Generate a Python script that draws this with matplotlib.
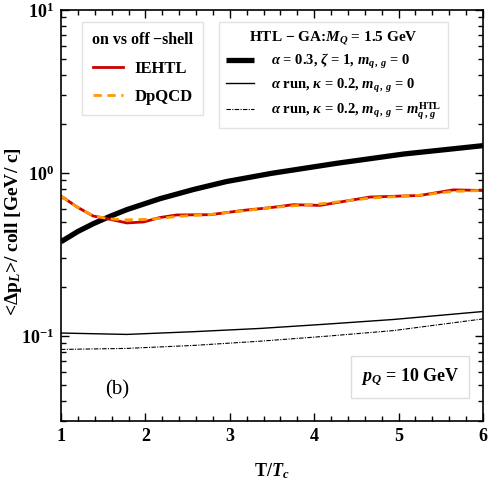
import numpy as np
import matplotlib
matplotlib.use("Agg")
import matplotlib.pyplot as plt
from matplotlib.ticker import FixedLocator, NullFormatter, FuncFormatter

plt.rcParams['font.family'] = ['Liberation Serif', 'DejaVu Serif']
plt.rcParams['mathtext.fontset'] = 'custom'
plt.rcParams['mathtext.rm'] = 'Liberation Serif:bold'
plt.rcParams['mathtext.it'] = 'Liberation Serif:bold:italic'
plt.rcParams['mathtext.bf'] = 'Liberation Serif:bold'

# data
T_thick = [1.0, 1.2, 1.38, 1.58, 1.78, 2.17, 2.57, 2.96, 3.5, 4.27, 5.06, 6.0]
y_thick = [0.378, 0.437, 0.487, 0.541, 0.595, 0.694, 0.791, 0.885, 0.995, 1.146, 1.306, 1.47]

T_ie = [1.0, 1.19, 1.38, 1.58, 1.78, 1.98, 2.17, 2.37, 2.77, 3.16, 3.48, 3.75, 4.07, 4.66, 5.25, 5.65, 6.0]
y_ie = [0.721, 0.618, 0.544, 0.519, 0.493, 0.50, 0.532, 0.552, 0.554, 0.589, 0.612, 0.638, 0.632, 0.711, 0.727, 0.787, 0.78]
y_dp = [0.721, 0.618, 0.546, 0.522, 0.515, 0.518, 0.525, 0.54, 0.556, 0.585, 0.612, 0.628, 0.645, 0.70, 0.73, 0.77, 0.78]

T_thin = [1.0, 1.78, 2.57, 3.36, 4.15, 4.94, 6.0]
y_thin = [0.104, 0.102, 0.106, 0.111, 0.118, 0.126, 0.141]
y_dd = [0.0825, 0.0837, 0.0873, 0.0927, 0.0995, 0.1077, 0.127]

fig = plt.figure(figsize=(4.9, 4.8), dpi=100)
ax = fig.add_axes([61/490, 1-421/480, (483-61)/490, (421-10)/480])

l1, = ax.plot(T_thick, y_thick, color='black', lw=3.8, solid_capstyle='butt')
l2, = ax.plot(T_thin, y_thin, color='black', lw=1.0)
l3, = ax.plot(T_thin, y_dd, color='black', lw=0.8, ls=(0, (4, 1.2, 1, 1.2)))
r1, = ax.plot(T_ie, y_ie, color='#cc0000', lw=2.0)
r2, = ax.plot(T_ie, y_dp, color='#ff9900', lw=2.0, ls=(0, (3, 2)))

ax.set_yscale('log')
ax.set_xlim(1, 6)
ax.set_ylim(0.03, 10)

ax.xaxis.set_major_locator(FixedLocator([1, 2, 3, 4, 5, 6]))
ax.xaxis.set_minor_locator(FixedLocator(np.arange(1, 6.01, 0.2)))
ax.xaxis.set_major_formatter(FuncFormatter(lambda v, p: f"{int(v)}"))
ax.yaxis.set_major_locator(FixedLocator([0.1, 1, 10]))
ax.yaxis.set_major_formatter(FuncFormatter(lambda v, p: r"$10^{%d}$" % int(round(np.log10(v)))))
ax.yaxis.set_minor_locator(FixedLocator([k * 10.0**e for e in (-2, -1, 0) for k in range(2, 10)]))
ax.yaxis.set_minor_formatter(NullFormatter())

ax.tick_params(which='both', direction='in', top=True, right=True, width=1.0)
ax.tick_params(which='major', length=6, labelsize=13, pad=5)
ax.tick_params(which='minor', length=3.5)
for lab in ax.get_xticklabels():
    lab.set_fontweight('bold')
for s in ax.spines.values():
    s.set_linewidth(1.2)

ax.set_xlabel(r"T/$T_c$", fontsize=13, fontweight='bold', labelpad=12)
ax.set_ylabel("<\u0394p$_L$>/ coll [GeV/ c]", fontsize=14, fontweight='bold')
ax.yaxis.set_label_coords(-0.088, 0.462)

leg1 = ax.legend([r1, r2], ['IEHTL', 'DpQCD'], title='on vs off\u2009\u2212shell',
                 loc='upper left', bbox_to_anchor=(0.05, 0.97), frameon=True, fancybox=False,
                 edgecolor='#dddddd', handlelength=1.8, handletextpad=0.7,
                 prop={'weight': 'bold', 'size': 12}, title_fontproperties={'weight': 'bold', 'size': 11.5},
                 borderpad=0.6, labelspacing=0.75, borderaxespad=0)
ax.add_artist(leg1)

leg2 = ax.legend([l1, l2, l3],
                 [r"$\alpha$ = 0.3, $\zeta$ = 1, $m_{q\,,\,g}$ = 0",
                  r"$\alpha$ run, $\kappa$ = 0.2, $m_{q\,,\,g}$ = 0",
                  r"$\alpha$ run, $\kappa$ = 0.2, $m_{q\,,\,g}$ = $m_{q\,,\,g}^{\mathrm{HTL}}$"],
                 title=r"HTL $-$ GA:$M_Q$ = 1.5 GeV",
                 loc='upper left', bbox_to_anchor=(0.375, 0.97), frameon=True, fancybox=False,
                 edgecolor='#dddddd', handlelength=1.9, handletextpad=1.2,
                 prop={'weight': 'bold', 'size': 10.5}, title_fontproperties={'weight': 'bold', 'size': 11},
                 borderpad=0.45, labelspacing=0.4, borderaxespad=0)

ax.text(0.71, 0.107, r"$p_Q$ = 10 GeV", transform=ax.transAxes, fontsize=13,
        fontweight='bold', va='center', ha='left',
        bbox=dict(boxstyle='square,pad=0.55', fc='white', ec='#dddddd'))
ax.text(0.133, 0.075, "(b)", transform=ax.transAxes, fontsize=15, va='center', ha='center')

fig.savefig('out.png', dpi=100)
